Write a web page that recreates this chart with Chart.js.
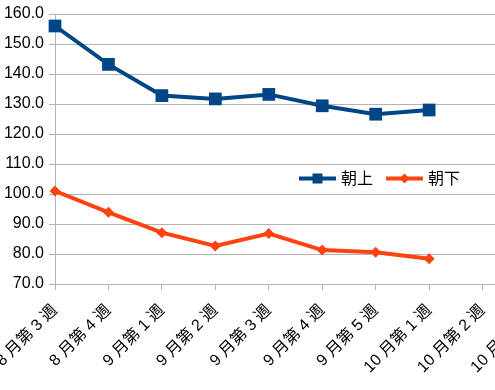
<!DOCTYPE html>
<html><head><meta charset="utf-8">
<script src="https://cdn.jsdelivr.net/npm/chart.js@4.4.0/dist/chart.umd.min.js"></script>
<style>
html,body{margin:0;padding:0;background:#fff;overflow:hidden;}
#wrap{width:495px;height:390px;overflow:hidden;position:relative;background:#fff;}
canvas{display:block;}
</style></head><body>
<div id="wrap"><canvas id="c" width="545" height="390" style="width:545px;height:390px"></canvas></div>
<script>
const categories = ['8 月第 3 週','8 月第 4 週','9 月第 1 週','9 月第 2 週','9 月第 3 週','9 月第 4 週','9 月第 5 週','10 月第 1 週','10 月第 2 週','10 月第 3 週'];
const seriesNames = ['朝上','朝下'];
const asaUe = [156.0,143.2,132.8,131.7,133.2,129.4,126.6,128.0,null,null];
const asaShita = [101.0,93.9,87.1,82.7,86.8,81.3,80.6,78.4,null,null];
const yMin = 70, yMax = 160, yStep = 10;

const FONT = "'Liberation Sans', 'Noto Sans CJK JP', sans-serif";
const GRID = '#b3b3b3';
const BLUE = '#004586', ORANGE = '#ff420e';

const legendPlugin = {
  id: 'inlineLegend',
  afterDraw(chart) {
    const ctx = chart.ctx, ca = chart.chartArea;
    let x = ca.left + 244;
    const cy = ca.top + 164.5;
    ctx.save();
    ctx.font = '16px ' + FONT;
    ctx.textBaseline = 'middle';
    ctx.textAlign = 'left';
    chart.data.datasets.forEach((ds) => {
      ctx.strokeStyle = ds.borderColor;
      ctx.lineWidth = 4;
      ctx.beginPath();
      ctx.moveTo(x, cy); ctx.lineTo(x + 37, cy); ctx.stroke();
      ctx.fillStyle = ds.borderColor;
      const mx = x + 18.5;
      if (ds.pointStyle === 'rect') {
        ctx.fillRect(mx - 5, cy - 5, 10, 10);
      } else {
        ctx.beginPath();
        ctx.moveTo(mx - 5, cy); ctx.lineTo(mx, cy - 5); ctx.lineTo(mx + 5, cy); ctx.lineTo(mx, cy + 5);
        ctx.closePath(); ctx.fill();
      }
      ctx.fillStyle = '#000';
      ctx.fillText(ds.label, x + 42, cy + 1);
      x += 87;
    });
    ctx.restore();
  }
};

new Chart(document.getElementById('c'), {
  type: 'line',
  data: {
    labels: categories,
    datasets: [
      { label: seriesNames[0], data: asaUe, borderColor: BLUE, backgroundColor: BLUE,
        borderWidth: 4, pointStyle: 'rect', pointRadius: 9, pointBorderWidth: 0, tension: 0 },
      { label: seriesNames[1], data: asaShita, borderColor: ORANGE, backgroundColor: ORANGE,
        borderWidth: 4, pointStyle: 'rectRot', pointRadius: 5.5, pointBorderWidth: 0, tension: 0 }
    ]
  },
  options: {
    responsive: false,
    animation: false,
    events: [],
    layout: { padding: { top: 14, right: 4, left: 0, bottom: 0 } },
    plugins: { legend: { display: false }, tooltip: { enabled: false } },
    scales: {
      x: {
        offset: false,
        grid: { drawOnChartArea: false, color: GRID, tickLength: 6 },
        border: { color: GRID },
        ticks: { autoSkip: false, maxRotation: 45, minRotation: 45, color: '#000',
                 font: { family: FONT, size: 16 }, padding: 11 },
        afterFit(s) { s.paddingLeft = 0; s.paddingRight = 0; s.height = 106; }
      },
      y: {
        min: yMin, max: yMax,
        grid: { color: GRID, tickLength: 6 },
        border: { color: GRID },
        ticks: { stepSize: yStep, color: '#000', font: { family: FONT, size: 16 }, padding: 5,
                 callback: (v) => Number(v).toFixed(1) },
        afterFit(s) { s.width = 55; s.paddingTop = 0; s.paddingBottom = 0; }
      }
    }
  },
  plugins: [legendPlugin]
});
</script>
</body></html>
